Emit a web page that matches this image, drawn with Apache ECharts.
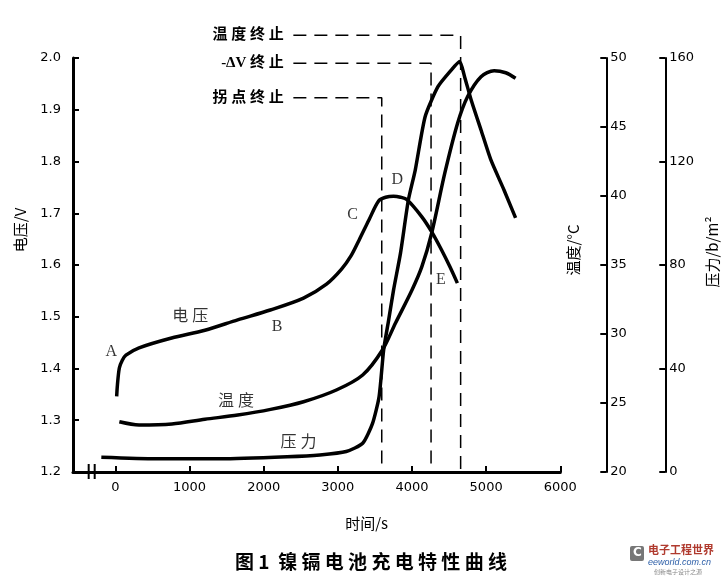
<!DOCTYPE html>
<html lang="zh">
<head>
<meta charset="UTF-8">
<title>镍镉电池充电特性曲线</title>
<script src="https://cdn.jsdelivr.net/npm/echarts@6/dist/echarts.min.js"></script>
<style>
    html, body { margin: 0; padding: 0; background: #fff; }
    #main { width: 728px; height: 579px; }
</style>
</head>
<body>
<div id="main"></div>
<script>
// 时间轴刻度
var timeTicks = [0, 1000, 2000, 3000, 4000, 5000, 6000];

// 电压曲线  时间/s -> 电压/V
var voltTime = [17, 27, 53, 93, 142, 319, 758, 1207, 1649, 2089, 2537, 2847, 3050, 3179, 3286, 3419, 3552, 3645, 3751, 3845, 3934, 4133, 4266, 4399, 4510, 4612];
var voltValues = [1.346, 1.368, 1.401, 1.416, 1.426, 1.440, 1.459, 1.474, 1.494, 1.513, 1.536, 1.563, 1.592, 1.618, 1.648, 1.687, 1.724, 1.731, 1.733, 1.731, 1.726, 1.693, 1.664, 1.629, 1.597, 1.565];

// 温度曲线  时间/s -> 温度/°C
var tempTime = [53, 319, 762, 1207, 1650, 2093, 2537, 2980, 3335, 3601, 3778, 4000, 4133, 4266, 4443, 4616, 4749, 4931, 5108, 5264, 5397];
var tempValues = [23.64, 23.41, 23.48, 23.82, 24.13, 24.54, 25.09, 25.94, 27.03, 28.84, 30.80, 33.19, 34.88, 37.32, 41.67, 45.29, 47.19, 48.64, 49.08, 48.93, 48.53];

// 压力曲线  时间/s -> 压力
var presTime = [-190, 541, 1427, 2315, 2758, 3113, 3335, 3468, 3556, 3618, 3685, 3751, 3845, 3951, 4044, 4177, 4350, 4532, 4643, 4709, 4798, 4931, 5064, 5241, 5397];
var presValues = [5.7, 5.1, 5.1, 5.9, 6.6, 7.9, 11.1, 18.8, 29.1, 47.2, 58.7, 70.3, 84.6, 105.1, 116.7, 137.3, 148.9, 155.4, 158.6, 152.8, 143.8, 132.2, 120.6, 109.0, 98.2];

// 三条终止线 (水平段高度按电压坐标)
var stopNames = ['温 度 终 止', '-ΔV 终 止', '拐 点 终 止'];
var stopTimes = [4656, 4257, 3592];
var stopLevels = [2.044, 1.990, 1.923];
var stopStart = 2400;

// 曲线上的字母和文字标注 (按电压坐标放置)
var noteText = ['A', 'B', 'C', 'D', 'E', '电 压', '温 度', '压 力'];
var noteTime = [-57, 2182, 3200, 3800, 4390, 1011, 1627, 2470];
var noteVolt = [1.4325, 1.481, 1.6966, 1.7643, 1.571, 1.4995, 1.3358, 1.2555];

function pairs(xs, ys) {
    var out = [];
    for (var i = 0; i < xs.length; i++) {
        out.push([xs[i], ys[i]]);
    }
    return out;
}

var numFont = 'DejaVu Sans';
var curveStyle = { color: '#000', width: 3.5 };

var series = [
    { name: '电压', type: 'line', yAxisIndex: 0, data: pairs(voltTime, voltValues), smooth: 0.3, showSymbol: false, lineStyle: curveStyle },
    { name: '温度', type: 'line', yAxisIndex: 1, data: pairs(tempTime, tempValues), smooth: 0.3, showSymbol: false, lineStyle: curveStyle },
    { name: '压力', type: 'line', yAxisIndex: 2, data: pairs(presTime, presValues), smooth: 0.2, showSymbol: false, lineStyle: curveStyle }
];

for (var i = 0; i < stopNames.length; i++) {
    series.push({
        type: 'line',
        yAxisIndex: 0,
        clip: false,
        symbol: 'circle',
        symbolSize: 1,
        itemStyle: { color: 'rgba(0,0,0,0)' },
        lineStyle: { color: '#000', width: 1.5, type: [13, 8] },
        data: [
            { value: [stopStart, stopLevels[i]], label: { show: true, position: 'left', distance: 9, formatter: stopNames[i] } },
            [stopTimes[i], stopLevels[i]],
            [stopTimes[i], 1.2]
        ],
        label: {
            color: '#000',
            fontSize: 15,
            fontWeight: 'bold',
            fontFamily: 'Liberation Serif, Noto Sans CJK SC'
        }
    });
}

var notes = [];
for (var j = 0; j < noteText.length; j++) {
    notes.push({ name: noteText[j], value: [noteTime[j], noteVolt[j]] });
}
series.push({
    type: 'scatter',
    yAxisIndex: 0,
    symbolSize: 1,
    itemStyle: { color: 'rgba(0,0,0,0)' },
    data: notes,
    label: {
        show: true,
        position: 'inside',
        formatter: '{b}',
        color: '#000',
        fontSize: 16,
        fontFamily: 'Liberation Serif, Noto Sans CJK SC'
    }
});

var chart = echarts.init(document.getElementById('main'));

var option = {
    animation: false,
    backgroundColor: '#fff',
    title: {
        text: '图 1  镍 镉 电 池 充 电 特 性 曲 线',
        left: 230,
        top: 547,
        textStyle: { fontSize: 19, fontWeight: 'bold', color: '#000', fontFamily: 'Noto Sans CJK SC' }
    },
    grid: { left: 73, right: 161, top: 58, bottom: 107 },
    xAxis: {
        type: 'value',
        min: -572,
        max: 6000,
        name: '时间/s',
        nameLocation: 'middle',
        nameGap: 44,
        nameTextStyle: { fontSize: 15, color: '#000', fontFamily: 'Noto Sans CJK SC', padding: [0, 0, 0, 100] },
        axisLine: { onZero: false, lineStyle: { color: '#000', width: 3 } },
        axisTick: { inside: true, length: 6, customValues: timeTicks, lineStyle: { width: 2 } },
        axisLabel: { customValues: timeTicks, fontSize: 13, color: '#000', fontFamily: numFont, margin: 9, formatter: function (v) { return String(v); } },
        splitLine: { show: false }
    },
    yAxis: [
        {
            type: 'value',
            position: 'left',
            min: 1.2,
            max: 2.0,
            interval: 0.1,
            name: '电压/V',
            nameLocation: 'middle',
            nameRotate: 90,
            nameGap: 45,
            nameTextStyle: { fontSize: 15, color: '#000', fontFamily: 'Noto Sans CJK SC', padding: [0, 0, 0, 70] },
            axisLine: { show: true, onZero: false, lineStyle: { color: '#000', width: 3 } },
            axisTick: { show: true, inside: true, length: 6, lineStyle: { width: 2 } },
            axisLabel: { fontSize: 13, color: '#000', fontFamily: numFont, margin: 12, formatter: function (v) { return v.toFixed(1); } },
            splitLine: { show: false }
        },
        {
            type: 'value',
            position: 'right',
            offset: 46,
            min: 20,
            max: 50,
            interval: 5,
            name: '温度/°C',
            nameLocation: 'middle',
            nameRotate: 90,
            nameGap: -40,
            nameTextStyle: { fontSize: 15, color: '#000', fontFamily: 'Noto Sans CJK SC', padding: [0, 0, 0, 30] },
            axisLine: { show: true, onZero: false, lineStyle: { color: '#000', width: 2 } },
            axisTick: { show: true, inside: true, length: 6, lineStyle: { width: 2 } },
            axisLabel: { fontSize: 13, color: '#000', fontFamily: numFont, margin: 4 },
            splitLine: { show: false }
        },
        {
            type: 'value',
            position: 'right',
            offset: 105,
            min: 0,
            max: 160,
            interval: 40,
            name: '压力/b/m²',
            nameLocation: 'middle',
            nameRotate: 90,
            nameGap: 16,
            nameTextStyle: { fontSize: 15, color: '#000', fontFamily: 'Noto Sans CJK SC', padding: [0, 0, 0, 26] },
            axisLine: { show: true, onZero: false, lineStyle: { color: '#000', width: 2 } },
            axisTick: { show: true, inside: true, length: 6, lineStyle: { width: 2 } },
            axisLabel: { fontSize: 13, color: '#000', fontFamily: numFont, margin: 4 },
            splitLine: { show: false }
        }
    ],
    series: series
};

chart.setOption(option);

// 横轴断开符号和右下角的水印
var breakX = chart.convertToPixel({ xAxisIndex: 0 }, -320);
var axisY = chart.convertToPixel({ yAxisIndex: 0 }, 1.2);
chart.setOption({
    graphic: [
        { type: 'rect', shape: { x: breakX - 2, y: axisY - 3, width: 5, height: 6 }, style: { fill: '#fff' } },
        { type: 'line', shape: { x1: breakX - 3, y1: axisY - 8, x2: breakX - 3, y2: axisY + 7 }, style: { stroke: '#000', lineWidth: 2 } },
        { type: 'line', shape: { x1: breakX + 3, y1: axisY - 8, x2: breakX + 3, y2: axisY + 7 }, style: { stroke: '#000', lineWidth: 2 } },
        { type: 'rect', shape: { x: 630, y: 546, width: 14, height: 15, r: 2 }, style: { fill: '#777' } },
        { type: 'text', style: { x: 633, y: 547, text: 'C', fill: '#fff', font: 'bold 12px DejaVu Sans' } },
        { type: 'text', style: { x: 648, y: 544, text: '电子工程世界', fill: '#b03a2e', font: 'bold 11px Noto Sans CJK SC' } },
        { type: 'text', style: { x: 648, y: 558, text: 'eeworld.com.cn', fill: '#2d5fa8', font: 'italic 9px Liberation Sans' } },
        { type: 'text', style: { x: 654, y: 569, text: '创新电子设计之源', fill: '#888', font: '6px Noto Sans CJK SC' } }
    ]
});
</script>
</body>
</html>
